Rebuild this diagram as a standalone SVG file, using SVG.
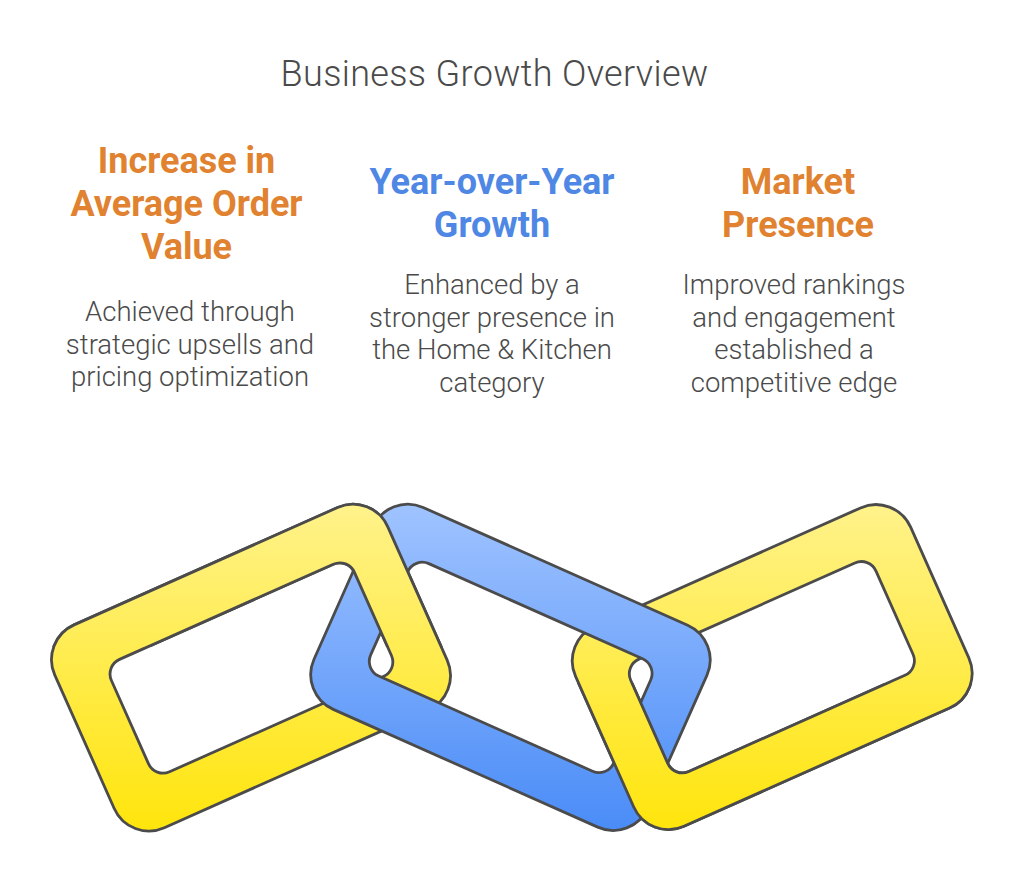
<svg xmlns="http://www.w3.org/2000/svg" xmlns:xlink="http://www.w3.org/1999/xlink" width="1024" height="881" viewBox="0 0 1024 881">
<style>
text{font-family:Roboto,"Liberation Sans",sans-serif;text-anchor:middle}
.title{font-size:36px;font-weight:300;letter-spacing:.35px;fill:#4a4a4a}
.head{font-size:36px;font-weight:700}
.orange{fill:#e0822f}
.blue{fill:#4f87e4}
.body{font-size:27.500px;font-weight:300;fill:#4a4a4a}
.ring{fill-rule:evenodd;stroke:#4b4b4b;stroke-width:2.800;stroke-linejoin:round}
</style>
<defs>
<linearGradient id="gy1" gradientUnits="userSpaceOnUse" x1="0" y1="505" x2="0" y2="830" gradientTransform="rotate(24)"><stop offset="0" stop-color="#fff28a"/><stop offset="1" stop-color="#ffe50c"/></linearGradient>
<linearGradient id="gb" gradientUnits="userSpaceOnUse" x1="0" y1="505" x2="0" y2="830" gradientTransform="rotate(-24)"><stop offset="0" stop-color="#9fc3ff"/><stop offset="1" stop-color="#4a8cf7"/></linearGradient>
<path id="ringA" class="ring" fill="url(#gy1)" transform="rotate(-24)" d="M-186.500 601H102A38 38 0 0 1 140 639V785A38 38 0 0 1 102 823H-186.500A38 38 0 0 1 -224.500 785V639A38 38 0 0 1 -186.500 601ZM-159 651H75A16 16 0 0 1 91 667V758A16 16 0 0 1 75 774H-159A16 16 0 0 1 -175 758V667A16 16 0 0 1 -159 651Z"/>
<path id="ringC" class="ring" fill="url(#gy1)" transform="rotate(-24)" d="M288.700 814H579.500A38 38 0 0 1 617.500 852V995A38 38 0 0 1 579.500 1033H288.700A38 38 0 0 1 250.700 995V852A38 38 0 0 1 288.700 814ZM315.500 862H552A16 16 0 0 1 568 878V969A16 16 0 0 1 552 985H315.500A16 16 0 0 1 299.500 969V878A16 16 0 0 1 315.500 862Z"/>
<clipPath id="upper"><rect x="0" y="440" width="1024" height="207"/></clipPath>
<clipPath id="lower"><rect x="0" y="683" width="1024" height="198"/></clipPath>
</defs>
<rect width="1024" height="881" fill="#ffffff"/>
<g id="title"><text class="title" x="494.500" y="85.500">Business Growth Overview</text></g>
<g id="node-aov">
<text class="head orange" x="186.500" y="172.500">Increase in</text>
<text class="head orange" x="186.500" y="215.500">Average Order</text>
<text class="head orange" x="186.500" y="258.500">Value</text>
<text class="body" x="190" y="321">Achieved through</text>
<text class="body" x="190" y="353.500">strategic upsells and</text>
<text class="body" x="190" y="386">pricing optimization</text>
</g>
<g id="node-yoy">
<text class="head blue" x="492" y="194">Year-over-Year</text>
<text class="head blue" x="492" y="237">Growth</text>
<text class="body" x="492" y="294">Enhanced by a</text>
<text class="body" x="492" y="326.500">stronger presence in</text>
<text class="body" x="492" y="359">the Home &amp; Kitchen</text>
<text class="body" x="492" y="391.500">category</text>
</g>
<g id="node-market">
<text class="head orange" x="798" y="194">Market</text>
<text class="head orange" x="798" y="237">Presence</text>
<text class="body" x="794" y="294">Improved rankings</text>
<text class="body" x="794" y="326.500">and engagement</text>
<text class="body" x="794" y="359">established a</text>
<text class="body" x="794" y="391.500">competitive edge</text>
</g>
<g id="links">
<g id="link-left"><use href="#ringA"/></g>
<g id="link-right"><use href="#ringC"/></g>
<g id="link-middle"><path class="ring" fill="url(#gb)" transform="rotate(24)" d="M593 291.500H882.500A38 38 0 0 1 920.500 329.500V474.500A38 38 0 0 1 882.500 512.500H593A38 38 0 0 1 555 474.500V329.500A38 38 0 0 1 593 291.500ZM621 340.500H855A16 16 0 0 1 871 356.500V447.500A16 16 0 0 1 855 463.500H621A16 16 0 0 1 605 447.500V356.500A16 16 0 0 1 621 340.500Z"/></g>
<g id="link-left-over" clip-path="url(#upper)"><use href="#ringA"/></g>
<g id="link-right-over" clip-path="url(#lower)"><use href="#ringC"/></g>
</g>
</svg>
